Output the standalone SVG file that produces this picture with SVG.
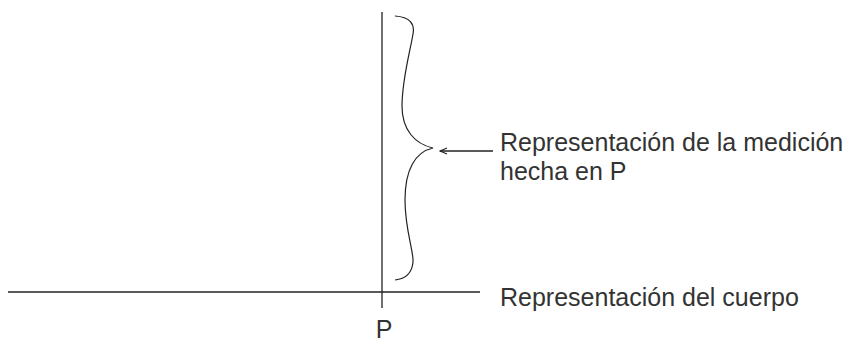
<svg xmlns="http://www.w3.org/2000/svg" width="845" height="344" viewBox="0 0 845 344">
<style>
.ln{stroke:#222;stroke-width:1.3;fill:none}
.br{stroke:#222;stroke-width:1.2;fill:none}
.t{font-family:"Liberation Sans",Arial,sans-serif;font-size:25px;fill:#333}
</style>
<defs>
<marker id="ah" markerWidth="10" markerHeight="10" refX="8" refY="4" orient="auto" markerUnits="userSpaceOnUse">
<path d="M1,1 L8,4 L1,7" fill="none" stroke="#222" stroke-width="1.1"/>
</marker>
</defs>
<rect width="845" height="344" fill="#fff"/>
<g id="connectors">
<line class="ln" x1="382" y1="12" x2="382" y2="308"/>
<line class="ln" x1="8" y1="292" x2="480" y2="292"/>
<line class="ln" x1="493" y1="151" x2="440" y2="151" marker-end="url(#ah)"/>
</g>
<g id="brace">
<path class="br" d="M395,16 C410,17 415,24 413,34 C410,52 402,80 402,106 C402,130 415,144 433,148 C415,152 405,170 405,200 C405,230 414,252 413,262 C412,273 405,279 395,280"/>
</g>
<g id="label-medicion">
<text class="t" x="500" y="151">Representación de la medición</text>
<text class="t" x="500" y="180">hecha en P</text>
</g>
<g id="label-cuerpo">
<text class="t" x="500" y="306">Representación del cuerpo</text>
</g>
<g id="label-P">
<text class="t" x="384" y="338" text-anchor="middle">P</text>
</g>
</svg>
